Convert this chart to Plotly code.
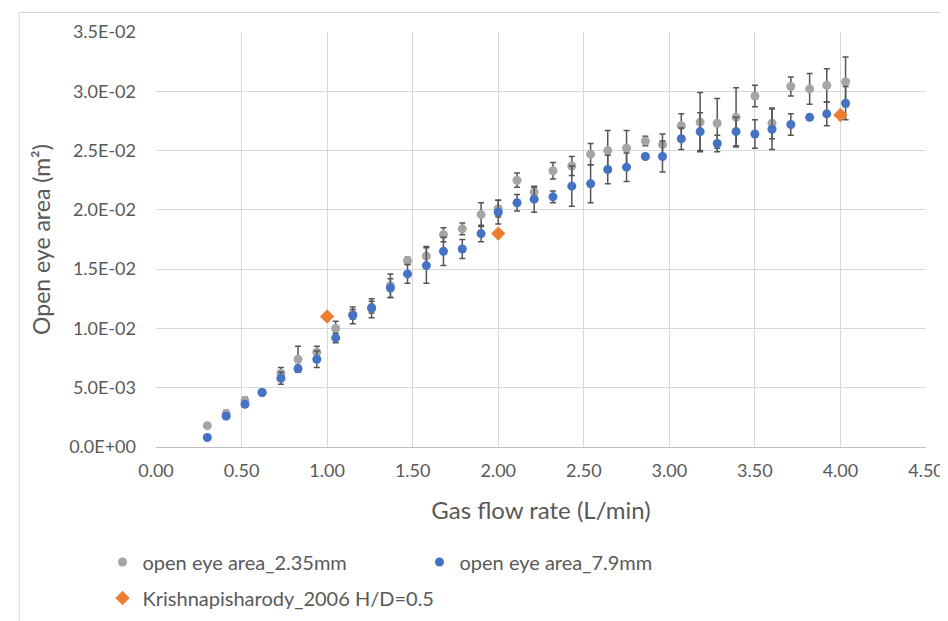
import plotly.graph_objects as go

# ---- data ----
flow = [0.30, 0.41, 0.52, 0.62, 0.73, 0.83, 0.94, 1.05, 1.15, 1.26,
        1.37, 1.47, 1.58, 1.68, 1.79, 1.90, 2.00, 2.11, 2.21, 2.32,
        2.43, 2.54, 2.64, 2.75, 2.86, 2.96, 3.07, 3.18, 3.28, 3.39,
        3.50, 3.60, 3.71, 3.82, 3.92, 4.03]

area_235 = [0.0018, 0.0028, 0.0039, 0.0046, 0.0062, 0.0074, 0.0080, 0.0100, 0.0112, 0.0118,
            0.0136, 0.0157, 0.0161, 0.0179, 0.0184, 0.0196, 0.0201, 0.0225, 0.0215, 0.0233,
            0.0237, 0.0247, 0.0250, 0.0252, 0.0258, 0.0255, 0.0271, 0.0274, 0.0273, 0.0278,
            0.0296, 0.0273, 0.0304, 0.0302, 0.0305, 0.0308]
err_235 = [0.0001, 0.0003, 0.0003, 0.0002, 0.0005, 0.0011, 0.0005, 0.0006, 0.0004, 0.0005,
           0.0010, 0.0003, 0.0008, 0.0006, 0.0005, 0.0010, 0.0007, 0.0006, 0.0004, 0.0007,
           0.0008, 0.0009, 0.0017, 0.0015, 0.0004, 0.0009, 0.0010, 0.0025, 0.0021, 0.0025,
           0.0009, 0.0013, 0.0008, 0.0013, 0.0014, 0.0021]

area_79 = [0.0008, 0.0026, 0.0036, 0.0046, 0.0058, 0.0066, 0.0074, 0.0092, 0.0111, 0.0117,
           0.0134, 0.0146, 0.0153, 0.0165, 0.0167, 0.0180, 0.0198, 0.0206, 0.0209, 0.0211,
           0.0220, 0.0222, 0.0234, 0.0236, 0.0245, 0.0245, 0.0260, 0.0266, 0.0256, 0.0266,
           0.0264, 0.0268, 0.0272, 0.0278, 0.0281, 0.0290]
err_79 = [0.0001, 0.0002, 0.0002, 0.0002, 0.0005, 0.0003, 0.0007, 0.0004, 0.0007, 0.0008,
          0.0008, 0.0008, 0.0015, 0.0012, 0.0008, 0.0007, 0.0010, 0.0007, 0.0011, 0.0005,
          0.0017, 0.0016, 0.0012, 0.0012, 0.0002, 0.0013, 0.0009, 0.0016, 0.0007, 0.0012,
          0.0012, 0.0017, 0.0009, 0.0002, 0.0010, 0.0014]

krish_flow = [1.0, 2.0, 4.0]
krish_area = [0.011, 0.018, 0.028]

y_tickvals = [0.0, 0.005, 0.010, 0.015, 0.020, 0.025, 0.030, 0.035]
y_ticktext = ["0.0E+00", "5.0E-03", "1.0E-02", "1.5E-02", "2.0E-02", "2.5E-02", "3.0E-02", "3.5E-02"]

FONT = "Lato"
TXT = "#595959"
GRID = "#d9d9d9"
ERR = "#555555"

fig = go.Figure()

fig.add_trace(go.Scatter(
    x=flow, y=area_235, mode="markers", name="open eye area_2.35mm",
    marker=dict(color="#a5a5a5", size=9, symbol="circle"),
    error_y=dict(type="data", array=err_235, visible=True, color=ERR, thickness=1.5, width=3),
    legend="legend",
))
fig.add_trace(go.Scatter(
    x=flow, y=area_79, mode="markers", name="open eye area_7.9mm",
    marker=dict(color="#4472c4", size=9, symbol="circle"),
    error_y=dict(type="data", array=err_79, visible=True, color=ERR, thickness=1.5, width=3),
    legend="legend",
))
fig.add_trace(go.Scatter(
    x=krish_flow, y=krish_area, mode="markers", name="Krishnapisharody_2006 H/D=0.5",
    marker=dict(color="#ed7d31", size=11, symbol="diamond"),
    legend="legend2",
))

W, H = 948, 621
ML, MR, MT, MB = 148, 23, 24, 171
PW, PH = W - ML - MR, H - MT - MB

def px(xpix):
    return (xpix - ML) / PW

def py(ypix):
    return (H - MB - ypix) / PH

fig.update_layout(
    width=W, height=H,
    margin=dict(l=ML, r=MR, t=MT, b=MB),
    paper_bgcolor="white", plot_bgcolor="white",
    font=dict(family=FONT, color=TXT),
    xaxis=dict(
        range=[0, 4.5], dtick=0.5, tickformat=".2f",
        showgrid=True, gridcolor=GRID, gridwidth=1,
        showline=True, linecolor="#bfbfbf", linewidth=1, mirror=False,
        zeroline=False, ticks="", tickfont=dict(size=18, color=TXT),
        ticklabelstandoff=7,
        title=dict(text="Gas flow rate (L/min)", font=dict(size=24, color=TXT), standoff=22),
    ),
    yaxis=dict(
        range=[0, 0.035], tickvals=y_tickvals, ticktext=y_ticktext,
        showgrid=True, gridcolor=GRID, gridwidth=1,
        showline=False, zeroline=False, ticks="", ticklen=0,
        tickfont=dict(size=18, color=TXT),
        ticklabelstandoff=19,
        title=dict(text="Open eye area (m²)", font=dict(size=23, color=TXT), standoff=12),
    ),
    legend=dict(
        orientation="h", x=px(94), y=py(548), xanchor="left", yanchor="top",
        entrywidth=272, entrywidthmode="pixels",
        font=dict(size=20, color=TXT), bgcolor="rgba(0,0,0,0)",
        itemwidth=30,
    ),
    legend2=dict(
        orientation="h", x=px(94), y=py(585), xanchor="left", yanchor="top",
        font=dict(size=20, color=TXT), bgcolor="rgba(0,0,0,0)",
        itemwidth=30,
    ),
    shapes=[dict(
        type="rect", xref="paper", yref="paper",
        x0=px(10), x1=px(980), y0=py(660), y1=py(4),
        line=dict(color=GRID, width=1), fillcolor="rgba(0,0,0,0)", layer="below",
    )],
)

fig.write_html("out.html")
